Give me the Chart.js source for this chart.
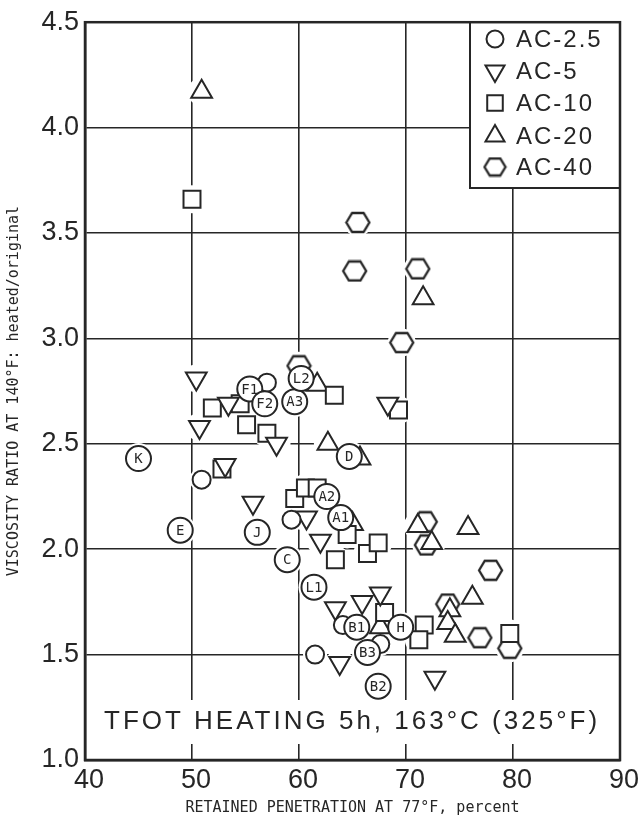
<!DOCTYPE html>
<html>
<head>
<meta charset="utf-8">
<title>Viscosity ratio vs retained penetration</title>
<script src="https://cdn.jsdelivr.net/npm/chart.js@4.4.1/dist/chart.umd.min.js"></script>
<style>
  html, body { margin: 0; padding: 0; background: #fff; }
  canvas { display: block; }
</style>
</head>
<body>
<canvas id="viscosityChart" width="643" height="824"></canvas>
<script>
const ink = '#262626';

// Grades shown in the legend
const grades = ['AC-2.5', 'AC-5', 'AC-10', 'AC-20', 'AC-40'];

// AC-2.5 (circles, some tagged with a sample code)
const ac25Pen =    [45.0, 48.9, 50.9, 57.0, 55.4, 56.8, 59.6, 60.2, 64.7, 56.1, 59.3, 62.6, 63.9, 58.9, 61.4, 61.5, 64.1, 67.6, 65.4, 66.4, 67.4, 69.5];
const ac25Ratio =  [2.43, 2.09, 2.33, 2.79, 2.76, 2.69, 2.70, 2.81, 2.44, 2.08, 2.14, 2.25, 2.15, 1.95, 1.82, 1.50, 1.64, 1.55, 1.63, 1.51, 1.35, 1.63];
const ac25Labels = ['K',  'E',  '',   '',   'F1', 'F2', 'A3', 'L2', 'D',  'J',  '',   'A2', 'A1', 'C',  'L1', '',   '',   '',   'B1', 'B3', 'B2', 'H'];

// AC-5 (down triangles)
const ac5Pen =   [50.4, 50.7, 53.4, 57.9, 53.1, 55.7, 60.7, 62.0, 63.4, 65.9, 67.6, 63.8, 72.7, 68.3];
const ac5Ratio = [2.81, 2.58, 2.69, 2.50, 2.40, 2.22, 2.15, 2.04, 1.72, 1.75, 1.79, 1.46, 1.39, 2.69];

// AC-10 (squares)
const ac10Pen =   [50.0, 51.9, 54.5, 55.1, 57.0, 63.3, 69.3, 52.8, 59.6, 60.6, 61.7, 64.5, 63.4, 66.4, 67.4, 68.0, 71.7, 71.2, 79.7];
const ac10Ratio = [3.66, 2.67, 2.69, 2.59, 2.55, 2.73, 2.66, 2.38, 2.24, 2.29, 2.29, 2.07, 1.95, 1.98, 2.03, 1.70, 1.64, 1.57, 1.60];

// AC-20 (up triangles)
const ac20Pen =   [50.9, 71.6, 62.7, 65.7, 61.7, 65.0, 71.1, 72.4, 75.8, 76.2, 74.1, 73.9, 74.6, 67.6];
const ac20Ratio = [4.17, 3.19, 2.50, 2.43, 2.78, 2.12, 2.11, 2.03, 2.10, 1.77, 1.71, 1.65, 1.59, 1.63];

// AC-40 (hexagons)
const ac40Pen =   [65.5, 65.2, 71.1, 69.6, 60.0, 71.8, 71.9, 77.9, 73.9, 76.9, 79.7];
const ac40Ratio = [3.55, 3.32, 3.33, 2.98, 2.87, 2.13, 2.02, 1.90, 1.74, 1.58, 1.53];

const xTicks = [40, 50, 60, 70, 80, 90];
const yTicks = [1.0, 1.5, 2.0, 2.5, 3.0, 3.5, 4.0, 4.5];

function toPoints(xs, ys) {
    return xs.map((x, i) => ({ x: x, y: ys[i] }));
}

// Flat-topped hexagon used as a point style
function hexagonImage(w, h) {
    const c = document.createElement('canvas');
    c.width = w + 4;
    c.height = h + 4;
    const g = c.getContext('2d');
    const cx = c.width / 2, cy = c.height / 2;
    g.beginPath();
    g.moveTo(cx - w / 2, cy);
    g.lineTo(cx - w / 4, cy - h / 2);
    g.lineTo(cx + w / 4, cy - h / 2);
    g.lineTo(cx + w / 2, cy);
    g.lineTo(cx + w / 4, cy + h / 2);
    g.lineTo(cx - w / 4, cy + h / 2);
    g.closePath();
    g.fillStyle = '#fff';
    g.fill();
    g.lineWidth = 2.3;
    g.strokeStyle = ink;
    g.stroke();
    return c;
}

const hexImg = hexagonImage(23, 19);
const hexLegendImg = hexagonImage(21, 17);

const circleRadius = ac25Labels.map(l => l ? 12.5 : 9);

// Marker datasets, drawn top to bottom by order
const markerSets = [
    { label: grades[0], pts: toPoints(ac25Pen, ac25Ratio), style: 'circle', radius: circleRadius, rotation: 0, order: 1 },
    { label: grades[1], pts: toPoints(ac5Pen, ac5Ratio), style: 'triangle', radius: 12, rotation: 180, order: 2 },
    { label: grades[2], pts: toPoints(ac10Pen, ac10Ratio), style: 'rect', radius: 12, rotation: 0, order: 3 },
    { label: grades[3], pts: toPoints(ac20Pen, ac20Ratio), style: 'triangle', radius: 12, rotation: 0, order: 4 },
    { label: grades[4], pts: toPoints(ac40Pen, ac40Ratio), style: hexImg, radius: 12, rotation: 0, order: 5 }
];

const datasets = [];
markerSets.forEach(s => {
    datasets.push({
        label: s.label,
        data: s.pts,
        pointStyle: s.style,
        pointRadius: s.radius,
        pointHoverRadius: s.radius,
        pointRotation: s.rotation,
        pointBackgroundColor: '#fff',
        pointBorderColor: ink,
        pointBorderWidth: 2,
        order: s.order
    });
    // white halo underneath so grid lines break around the marks
    const r = Array.isArray(s.radius) ? s.radius.map(v => v + 3) : s.radius + 2;
    datasets.push({
        label: s.label + ' halo',
        data: s.pts,
        pointStyle: 'circle',
        pointRadius: r,
        pointHoverRadius: r,
        pointBackgroundColor: '#fff',
        pointBorderWidth: 0,
        order: 10
    });
});

// Sample codes inside the AC-2.5 circles
const circleLabelPlugin = {
    id: 'circleLabels',
    afterDatasetsDraw(chart) {
        const meta = chart.getDatasetMeta(0);
        const ctx = chart.ctx;
        ctx.save();
        ctx.font = '14px "DejaVu Sans Mono"';
        ctx.fillStyle = ink;
        ctx.textAlign = 'center';
        ctx.textBaseline = 'middle';
        meta.data.forEach((pt, i) => {
            if (ac25Labels[i]) ctx.fillText(ac25Labels[i], pt.x, pt.y + 1);
        });
        ctx.restore();
    }
};

// Heating note, legend box and heavy frame
const decorPlugin = {
    id: 'decor',
    beforeDatasetsDraw(chart) {
        const ctx = chart.ctx;
        const area = chart.chartArea;
        ctx.save();
        ctx.fillStyle = '#fff';
        ctx.fillRect(area.left + 14, area.bottom - 60, 505, 44);
        ctx.fillStyle = ink;
        ctx.font = '26px "Liberation Sans"';
        ctx.letterSpacing = '3px';
        ctx.textBaseline = 'alphabetic';
        ctx.fillText('TFOT HEATING 5h, 163°C (325°F)', area.left + 19, area.bottom - 31);
        ctx.restore();
    },
    afterDatasetsDraw(chart) {
        const ctx = chart.ctx;
        const area = chart.chartArea;
        const boxLeft = 470, boxBottom = 188;
        ctx.save();
        ctx.fillStyle = '#fff';
        ctx.fillRect(boxLeft, area.top, area.right - boxLeft, boxBottom - area.top);
        ctx.strokeStyle = ink;
        ctx.lineWidth = 2;
        ctx.beginPath();
        ctx.moveTo(boxLeft, area.top);
        ctx.lineTo(boxLeft, boxBottom);
        ctx.lineTo(area.right, boxBottom);
        ctx.stroke();

        const rows = [39, 71, 103, 136, 167];
        const legendStyles = [
            { pointStyle: 'circle', radius: 8.5, rotation: 0 },
            { pointStyle: 'triangle', radius: 11, rotation: 180 },
            { pointStyle: 'rect', radius: 11, rotation: 0 },
            { pointStyle: 'triangle', radius: 11, rotation: 0 },
            { pointStyle: hexLegendImg, radius: 10, rotation: 0 }
        ];
        ctx.lineWidth = 2;
        legendStyles.forEach((st, i) => {
            ctx.fillStyle = '#fff';
            ctx.strokeStyle = ink;
            Chart.helpers.drawPoint(ctx, { pointStyle: st.pointStyle, radius: st.radius, rotation: st.rotation, borderWidth: 2 }, 495, rows[i]);
        });
        ctx.fillStyle = ink;
        ctx.font = '24px "Liberation Sans"';
        ctx.letterSpacing = '2px';
        ctx.textBaseline = 'middle';
        grades.forEach((g, i) => ctx.fillText(g, 516, rows[i] + 1));

        ctx.letterSpacing = '0px';
        ctx.lineWidth = 2.5;
        ctx.strokeRect(area.left, area.top, area.right - area.left, area.bottom - area.top);
        ctx.restore();
    }
};

const ctx = document.getElementById('viscosityChart').getContext('2d');

new Chart(ctx, {
    type: 'scatter',
    data: { datasets: datasets },
    options: {
        responsive: false,
        animation: false,
        layout: { padding: { left: 0, top: 20, right: 23, bottom: 0 } },
        plugins: {
            legend: { display: false },
            tooltip: { enabled: false }
        },
        scales: {
            x: {
                type: 'linear',
                min: 40,
                max: 90,
                afterFit: scale => { scale.height = 64; },
                afterBuildTicks: scale => { scale.ticks = xTicks.map(v => ({ value: v })); },
                grid: { color: ink, lineWidth: 1.6, drawTicks: false },
                border: { color: ink, width: 2.5 },
                ticks: {
                    autoSkip: false,
                    maxRotation: 0,
                    padding: 4,
                    labelOffset: 4,
                    color: ink,
                    font: { family: 'Liberation Sans', size: 27 }
                },
                title: {
                    display: true,
                    text: 'RETAINED PENETRATION AT 77°F, percent',
                    color: ink,
                    font: { family: 'DejaVu Sans Mono', size: 15 },
                    padding: { top: 0, bottom: 7 }
                }
            },
            y: {
                type: 'linear',
                min: 1,
                max: 4.5,
                afterFit: scale => { scale.width = 85; },
                afterBuildTicks: scale => { scale.ticks = yTicks.map(v => ({ value: v })); },
                grid: { color: ink, lineWidth: 1.6, drawTicks: false },
                border: { color: ink, width: 2.5 },
                ticks: {
                    padding: 6,
                    color: ink,
                    font: { family: 'Liberation Sans', size: 27 },
                    callback: v => v.toFixed(1)
                },
                title: {
                    display: true,
                    text: 'VISCOSITY RATIO AT 140°F: heated/original',
                    color: ink,
                    font: { family: 'DejaVu Sans Mono', size: 15 },
                    padding: { top: 5, bottom: 0 }
                }
            }
        }
    },
    plugins: [circleLabelPlugin, decorPlugin]
});
</script>
</body>
</html>
